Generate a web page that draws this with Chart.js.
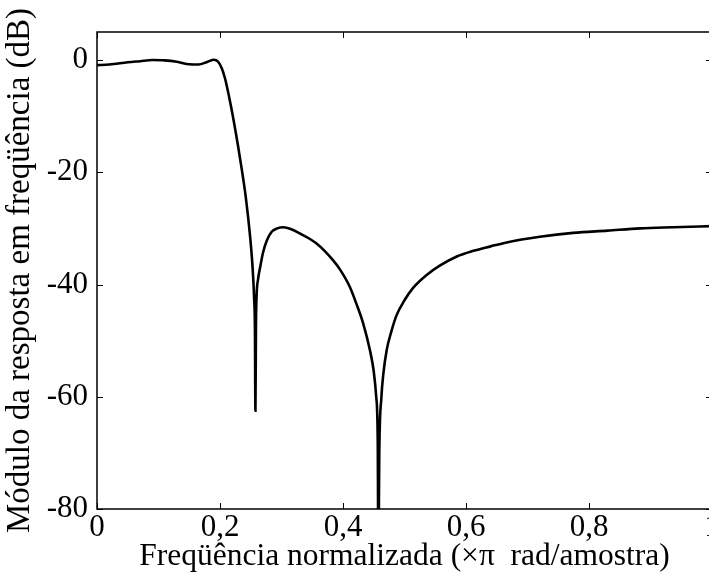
<!DOCTYPE html>
<html>
<head>
<meta charset="utf-8">
<script src="https://cdn.jsdelivr.net/npm/chart.js@4.4.0/dist/chart.umd.min.js"></script>
<style>
html, body { margin: 0; padding: 0; overflow: hidden; background: #fff; width: 709px; height: 582px; }
#wrap { width: 720px; height: 582px; position: absolute; left: 0; top: 0; }
</style>
</head>
<body>
<div id="wrap"><canvas id="c" width="720" height="582"></canvas></div>
<script>
// Normalized frequency (x pi rad/sample)
const freq = [0, 0.02, 0.05, 0.07, 0.09, 0.11, 0.13, 0.15, 0.165, 0.18, 0.19, 0.197, 0.203, 0.208,
  0.216, 0.225, 0.234, 0.242, 0.249, 0.253, 0.2555, 0.2568, 0.2576, 0.2585, 0.2595, 0.262, 0.266,
  0.270, 0.276, 0.284, 0.293, 0.303, 0.315, 0.330, 0.345, 0.357, 0.370, 0.384, 0.395, 0.411, 0.422,
  0.433, 0.444, 0.450, 0.454, 0.4565, 0.4575, 0.459, 0.4625, 0.4655, 0.471, 0.478, 0.487, 0.50,
  0.514, 0.536, 0.558, 0.585, 0.612, 0.64, 0.666, 0.72, 0.774, 0.83, 0.883, 0.937, 1.0];
// Magnitude response (dB)
const magDb = [-0.9, -0.8, -0.4, -0.2, 0.0, -0.05, -0.3, -0.75, -0.8, -0.3, 0.05, -0.3, -1.5, -3.2,
  -7.2, -12.5, -18.5, -24.5, -31.5, -37, -42.5, -48, -62.5, -47, -42, -39, -36.5,
  -34.3, -32.2, -30.6, -30.0, -29.8, -30.1, -30.9, -31.8, -32.7, -34, -35.7, -37.3, -40.4, -43.5,
  -47, -51.8, -55.5, -60, -68, -90, -70, -60, -56, -51.7, -48.6, -45.5, -42.8,
  -40.6, -38.3, -36.6, -35.0, -34.0, -33.2, -32.5, -31.5, -30.8, -30.4, -30.0, -29.8, -29.6];

const xTicks = [0, 0.2, 0.4, 0.6, 0.8, 1];
const xTickLabels = ['0', '0,2', '0,4', '0,6', '0,8', '1'];
const yTicks = [-80, -60, -40, -20, 0];
const yTickLabels = ['-80', '-60', '-40', '-20', '0'];
const xTitle = 'Freqüência normalizada (×π  rad/amostra)';
const yTitle = 'Módulo da resposta em freqüência (dB)';

const FONT = '"Liberation Serif", "Times New Roman", serif';
const points = freq.map((f, i) => ({ x: f, y: magDb[i] }));

const boxPlugin = {
  id: 'matlabBox',
  afterDraw(chart) {
    const { ctx, chartArea: a, scales } = chart;
    ctx.save();
    ctx.strokeStyle = '#000';
    ctx.lineWidth = 1.5;
    ctx.strokeRect(a.left, a.top, a.right - a.left, a.bottom - a.top);
    const L = 6;
    ctx.lineWidth = 1;
    ctx.beginPath();
    xTicks.forEach(v => {
      const px = Math.round(scales.x.getPixelForValue(v)) + 0.5;
      ctx.moveTo(px, a.bottom); ctx.lineTo(px, a.bottom - L);
      ctx.moveTo(px, a.top); ctx.lineTo(px, a.top + L);
    });
    yTicks.forEach(v => {
      const py = Math.round(scales.y.getPixelForValue(v)) + 0.5;
      ctx.moveTo(a.left, py); ctx.lineTo(a.left + L, py);
      ctx.moveTo(a.right, py); ctx.lineTo(a.right - L, py);
    });
    ctx.stroke();
    ctx.restore();
  }
};

new Chart(document.getElementById('c'), {
  type: 'scatter',
  data: {
    datasets: [{
      data: points,
      showLine: true,
      borderColor: '#000',
      borderWidth: 2.6,
      pointRadius: 0,
      cubicInterpolationMode: 'monotone',
      fill: false
    }]
  },
  options: {
    responsive: false,
    animation: false,
    events: [],
    layout: { padding: { top: 32, right: 8, left: 0, bottom: 0 } },
    plugins: { legend: { display: false }, tooltip: { enabled: false } },
    scales: {
      x: {
        type: 'linear', min: 0, max: 1,
        afterBuildTicks: s => { s.ticks = xTicks.map(v => ({ value: v })); },
        afterFit: s => { s.height = 73; },
        grid: { display: false, drawTicks: false },
        border: { display: false },
        ticks: {
          autoSkip: false, maxRotation: 0, padding: 0,
          color: '#000', font: { family: FONT, size: 31 },
          callback: (v) => { const i = xTicks.indexOf(v); return i >= 0 ? xTickLabels[i] : ''; }
        },
        title: { display: true, text: xTitle, color: '#000', font: { family: FONT, size: 31.5, lineHeight: 1 }, padding: { top: 0, bottom: 10 } }
      },
      y: {
        type: 'linear', min: -80, max: 5,
        afterBuildTicks: s => { s.ticks = yTicks.map(v => ({ value: v })); },
        afterFit: s => { s.width = 97; },
        grid: { display: false, drawTicks: false },
        border: { display: false },
        ticks: {
          autoSkip: false, padding: 9,
          color: '#000', font: { family: FONT, size: 31 },
          callback: (v) => { const i = yTicks.indexOf(v); return i >= 0 ? yTickLabels[i] : ''; }
        },
        title: { display: true, text: yTitle, color: '#000', font: { family: FONT, size: 33, lineHeight: 1 }, padding: { top: 4, bottom: 0 } }
      }
    }
  },
  plugins: [boxPlugin]
});
</script>
</body>
</html>
